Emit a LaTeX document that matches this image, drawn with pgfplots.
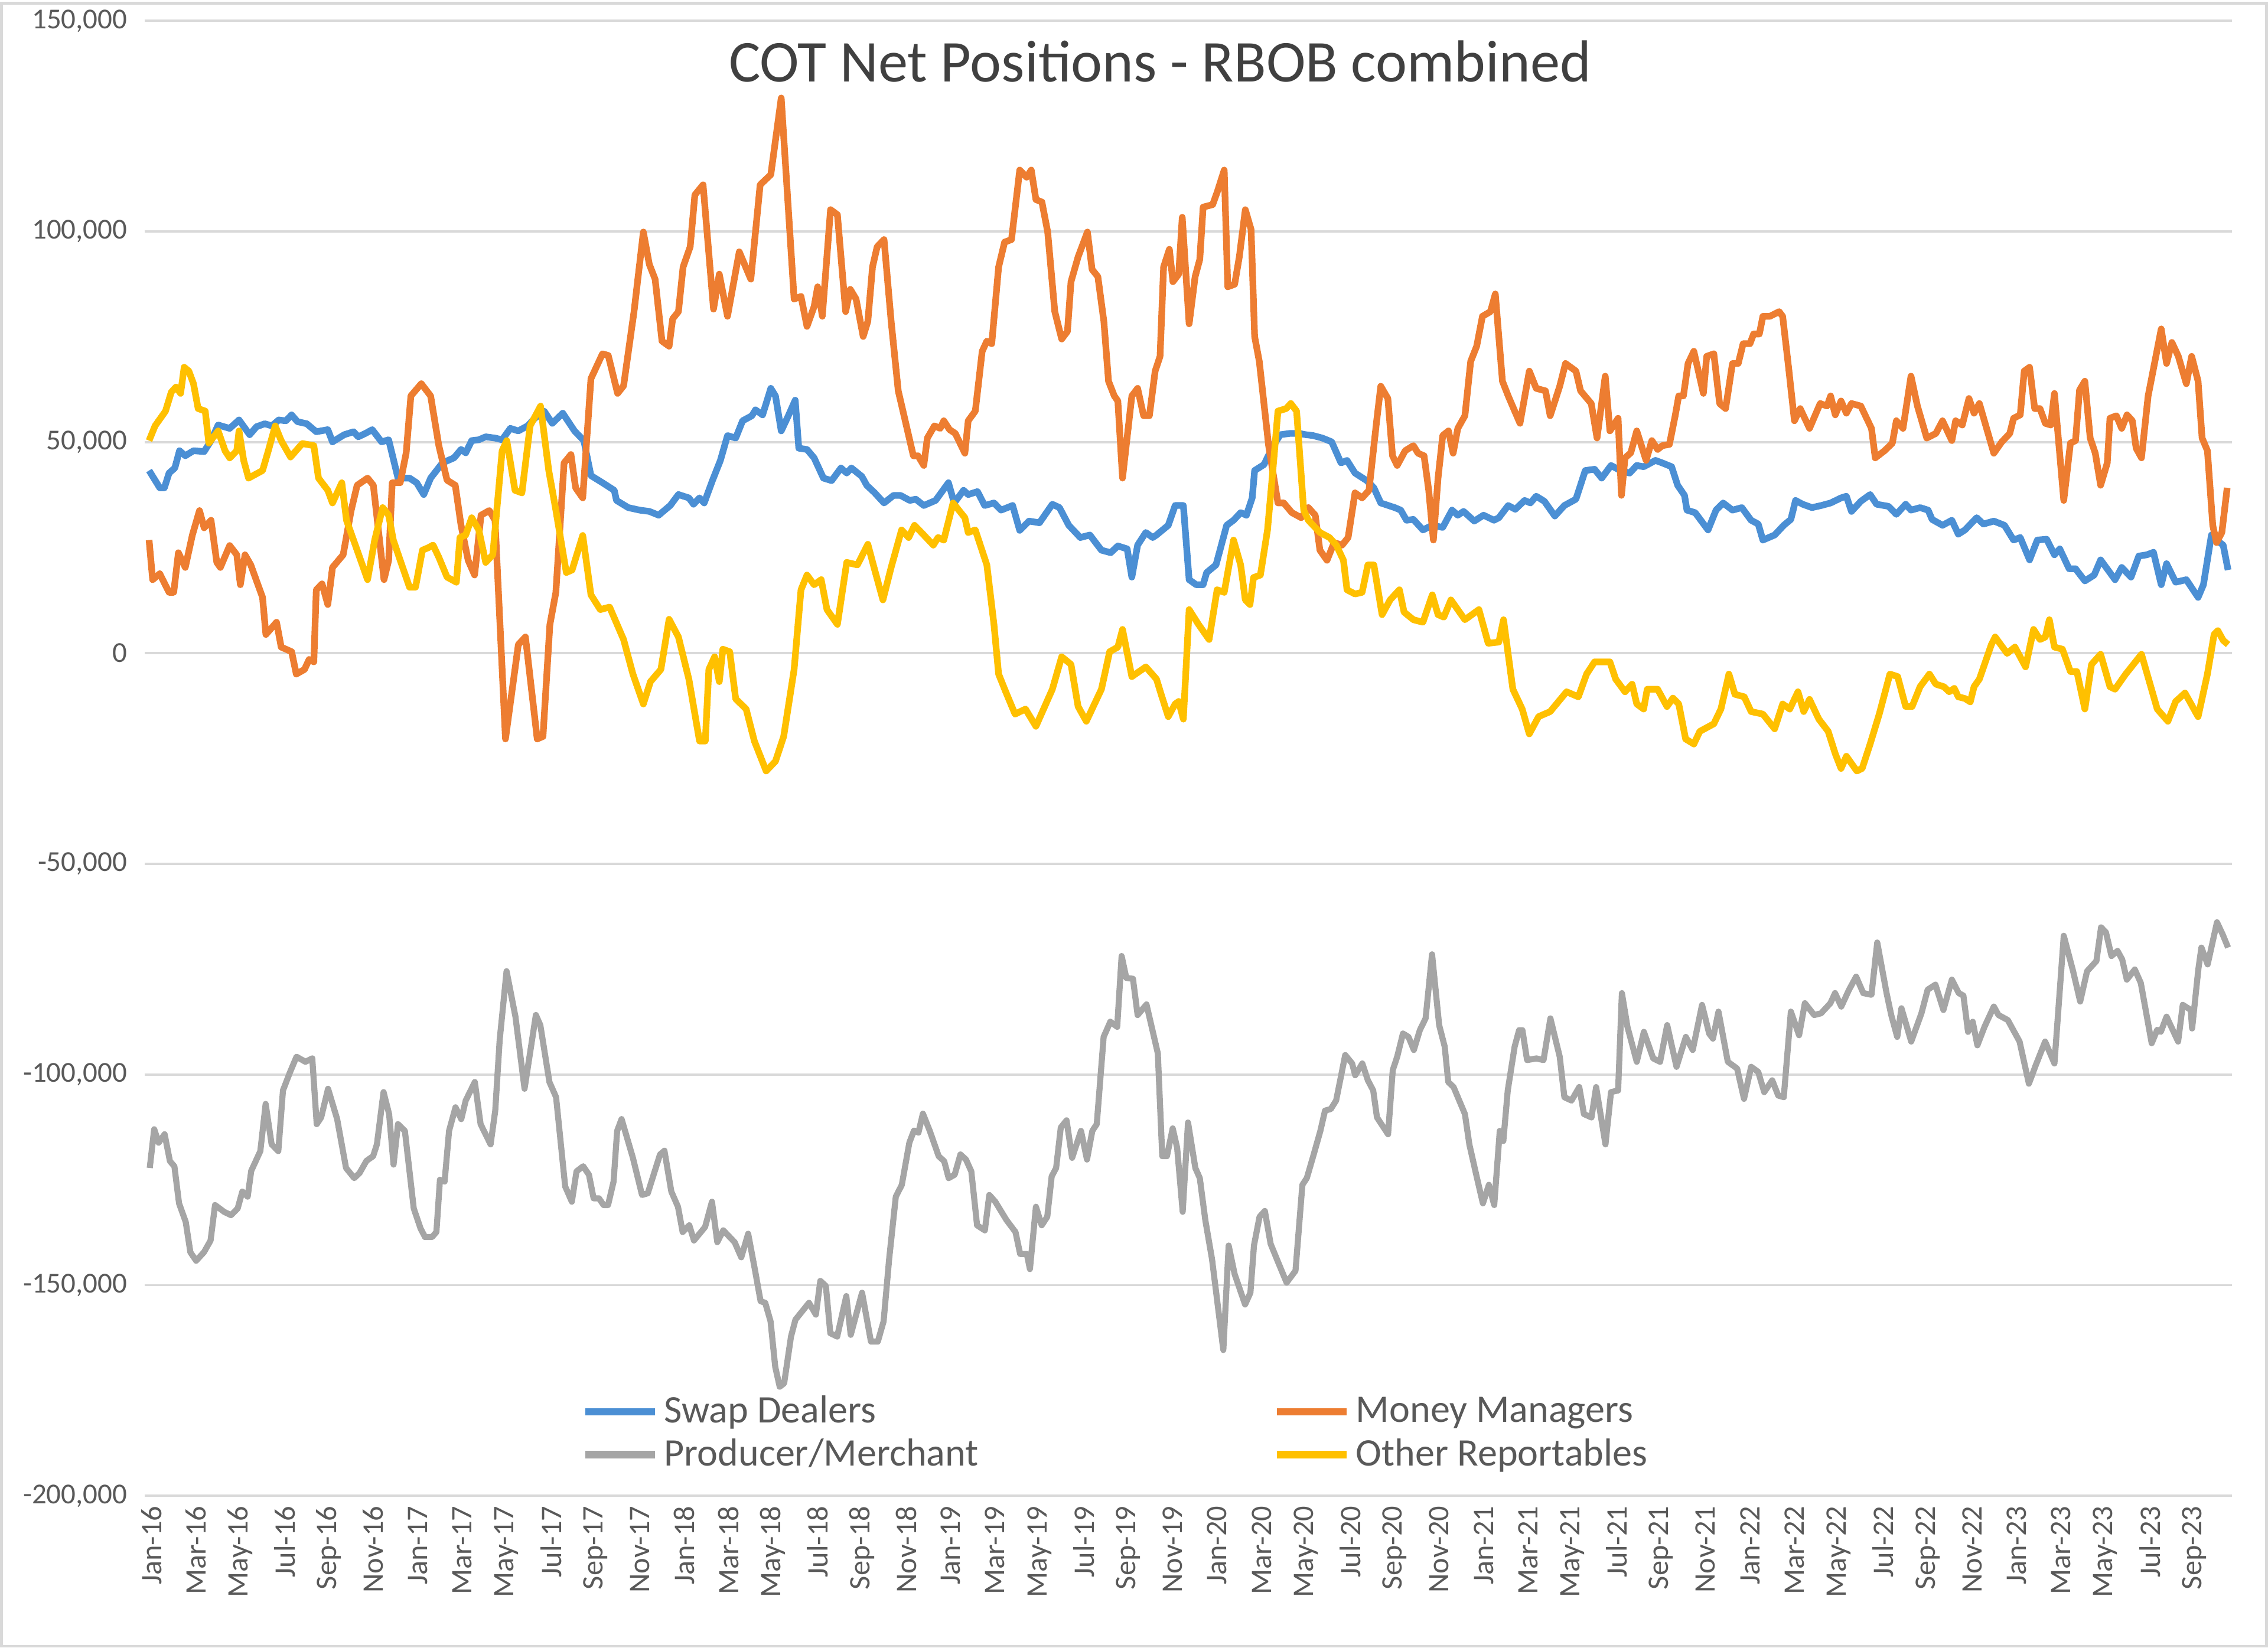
\documentclass[border=0pt]{standalone}
\usepackage{fontspec}
\setmainfont{Carlito}
\usepackage{pgfplots}
\pgfplotsset{compat=1.18}
\definecolor{swapblue}{HTML}{4B8FD4}
\definecolor{moneyorange}{HTML}{ED7D31}
\definecolor{prodgray}{HTML}{A5A5A5}
\definecolor{otheryellow}{HTML}{FFC000}
\definecolor{txt}{HTML}{595959}
\definecolor{gridc}{HTML}{D9D9D9}

\begin{document}
\begin{tikzpicture}
\begin{axis}[
  scale only axis, width=721.5pt, height=510pt,
  xmin=-0.3, xmax=93.7, ymin=-200, ymax=150,
  ytick={-200,-150,...,150},
  yticklabels={{-200,000},{-150,000},{-100,000},{-50,000},0,{50,000},{100,000},{150,000}},
  xtick={0,2,...,92},
  xticklabels={Jan-16,Mar-16,May-16,Jul-16,Sep-16,Nov-16,
               Jan-17,Mar-17,May-17,Jul-17,Sep-17,Nov-17,
               Jan-18,Mar-18,May-18,Jul-18,Sep-18,Nov-18,
               Jan-19,Mar-19,May-19,Jul-19,Sep-19,Nov-19,
               Jan-20,Mar-20,May-20,Jul-20,Sep-20,Nov-20,
               Jan-21,Mar-21,May-21,Jul-21,Sep-21,Nov-21,
               Jan-22,Mar-22,May-22,Jul-22,Sep-22,Nov-22,
               Jan-23,Mar-23,May-23,Jul-23,Sep-23},
  xticklabel style={rotate=90, anchor=east, font=\fontsize{10.3}{12}\selectfont, text=txt},
  yticklabel style={font=\fontsize{10}{12}\selectfont, text=txt, xshift=-2.5pt},
  ymajorgrids, grid style={gridc, line width=0.8pt},
  axis line style={draw=none}, major tick length=0pt,
  clip=false,
  legend columns=2, legend cell align=left,
  legend style={draw=none, fill=none, at={(rel axis cs:0.205,0.076)}, anchor=north west,
    font=\fontsize{13.5}{16.5}\selectfont, text=txt,
    /tikz/every even column/.append style={column sep=100pt}},
  legend image code/.code={\draw[#1, line width=2.5pt] (0pt,0pt) -- (24pt,0pt);},
  every axis plot/.append style={line width=2.3pt, line join=round},
]
% Swap Dealers
\addplot[color=swapblue] coordinates {
(-0.1,43.3) (0.38,39.2) (0.59,39.2) (0.8,42.7) (1.06,43.9) (1.27,48) (1.53,46.8) (1.9,48) (2.38,47.8) (2.69,50.4) (3.01,54.1) (3.53,53.3) (3.95,55.3) (4.43,51.8) (4.74,53.7) (5.11,54.4) (5.43,53.9) (5.74,55.3) (6.06,55.1) (6.32,56.5) (6.58,54.9) (7.0,54.4) (7.43,52.5) (7.95,53) (8.16,50.1) (8.69,51.8) (9.11,52.5) (9.32,51.3) (9.64,52.1) (9.95,53) (10.37,50.1) (10.69,50.6) (11.11,41.5) (11.63,41.5) (11.95,40.4) (12.27,37.6) (12.58,41.5) (13.11,45.1) (13.63,46.3) (13.95,48.3) (14.16,47.5)
(14.43,50.4) (14.75,50.6) (15.06,51.3) (15.48,51) (15.8,50.6) (16.17,53.3) (16.53,52.7) (16.95,53.9) (17.27,55.7) (17.69,57.4) (18.06,54.5) (18.53,56.9) (19.06,52.7) (19.48,50.4) (19.8,42.1) (20.32,40.4) (20.85,38.6) (20.95,36.2) (21.48,34.5) (22.0,33.9) (22.43,33.6) (22.85,32.7) (23.37,35) (23.74,37.6) (24.21,36.8) (24.42,35.3) (24.69,36.8) (24.9,35.6) (25.27,40.9) (25.63,45.7) (25.95,51.6) (26.32,51) (26.63,55.1) (27.05,56.3) (27.21,57.7) (27.53,56.5) (27.9,62.8) (28.11,61) (28.37,52.7) (28.69,56.3) (29.0,60) (29.16,48.6) (29.53,48.3)
(29.85,46.3) (30.27,41.5) (30.64,40.9) (31.06,43.9) (31.32,42.7) (31.53,43.9) (32.0,41.9) (32.22,39.8) (32.58,38) (33.0,35.6) (33.43,37.4) (33.74,37.4) (34.16,36.2) (34.43,36.5) (34.79,35) (35.32,36.2) (35.9,40.4) (36.16,35.6) (36.58,38.6) (36.79,37.6) (37.21,38.3) (37.53,35) (37.95,35.6) (38.27,33.9) (38.79,35) (39.11,29.1) (39.53,31.3) (40.0,30.9) (40.58,35.3) (40.9,34.5) (41.32,30.3) (41.84,27.4) (42.27,28) (42.79,24.4) (43.21,23.8) (43.53,25.4) (43.95,24.7) (44.16,18) (44.42,25.6) (44.79,28.6) (45.1,27.4)
(45.27,28) (45.8,30.3) (46.11,35) (46.48,35) (46.74,17.4) (47.06,16.2) (47.37,16.2) (47.53,19.1) (47.95,20.9) (48.43,30.3) (48.74,31.5) (49.06,33.3) (49.32,32.7) (49.58,36.8) (49.69,43.3) (50.11,44.7) (50.53,49.2) (50.85,51.8) (51.27,52.1) (51.69,52.1) (52.0,51.8) (52.32,51.6) (52.74,51) (53.16,50.1) (53.58,45.1) (53.85,45.7) (54.21,42.7) (54.74,40.9) (55.06,39.2) (55.37,35.6) (56.0,34.5) (56.27,33.9) (56.53,31.5) (56.84,31.7) (57.27,29.2) (57.69,30.3) (58.16,29.8) (58.58,33.9) (58.84,32.7) (59.1,33.6) (59.58,31.3) (60.0,32.7) (60.47,31.5)
(60.69,32.1) (61.11,35) (61.43,34.1) (61.85,36.2) (62.11,35.6) (62.37,37.2) (62.74,36) (63.21,32.5) (63.64,35) (64.16,36.5) (64.58,43.3) (65.0,43.6) (65.32,41.5) (65.74,44.5) (66.16,43.3) (66.58,42.7) (66.9,44.5) (67.21,44.2) (67.74,45.7) (68.05,45.1) (68.47,44.2) (68.74,39.8) (69.05,37.4) (69.16,33.9) (69.53,33.3) (70.11,29.2) (70.47,33.9) (70.79,35.6) (71.21,33.9) (71.63,34.5) (72.05,31.5) (72.37,30.6) (72.58,26.8) (73.11,28) (73.52,30.3) (73.84,31.7) (74.05,36.2) (74.37,35.3) (74.79,34.5) (75.21,35) (75.63,35.6)
(76.1,36.8) (76.34,37.2) (76.57,33.6) (76.99,36) (77.41,37.6) (77.7,35.3) (78.24,34.8) (78.59,32.9) (79.01,35.3) (79.25,33.9) (79.66,34.5) (80.02,33.9) (80.2,31.7) (80.67,30.3) (81.09,31.5) (81.38,28.2) (81.68,29.2) (82.21,32.1) (82.51,30.6) (82.98,31.3) (83.46,30.3) (83.87,26.8) (84.17,27.4) (84.59,22.1) (84.94,26.8) (85.36,27) (85.71,23.3) (85.95,24.7) (86.37,20) (86.66,20) (87.08,17.1) (87.5,18.5) (87.79,22.1) (88.44,17.4) (88.74,20.3) (89.16,18) (89.51,23) (89.87,23.3) (90.17,23.9) (90.52,16.2) (90.76,21.2) (91.17,16.8) (91.65,17.4) (92.18,13.2) (92.42,16.2) (92.78,28) (93.01,26.8) (93.31,25.6) (93.53,19.7)
};
\addlegendentry{Swap Dealers}
% Money Managers
\addplot[color=moneyorange] coordinates {
(-0.1,26.8) (0.06,17.4) (0.38,18.8) (0.8,14.4) (1.01,14.4) (1.22,23.8) (1.53,20.3) (1.85,28) (2.17,33.8) (2.38,29.7) (2.69,31.5) (2.95,21.5) (3.11,20.3) (3.53,25.5) (3.85,23.3) (4.01,16.2) (4.22,23.3) (4.48,20.9) (5.01,13.2) (5.16,4.4) (5.64,7.3) (5.85,1.4) (6.32,0.3) (6.53,-5) (6.9,-3.9) (7.11,-1.5) (7.32,-2.1) (7.43,15) (7.69,16.4) (7.95,11.5) (8.16,20.3) (8.64,23.3) (9.0,33.8) (9.27,39.8) (9.74,41.5) (10.0,39.8) (10.48,17.4) (10.69,22) (10.85,40.4) (11.21,40.4) (11.48,47.5) (11.69,61) (12.16,63.9) (12.58,61) (12.95,49.2) (13.32,41) (13.69,39.8) (13.95,30.3) (14.27,22)
(14.56,18.5) (14.85,32.7) (15.22,33.8) (15.48,31.5) (15.95,-20.4) (16.53,2) (16.85,3.8) (17.38,-20.4) (17.64,-19.8) (17.95,6.7) (18.22,14.4) (18.59,45.1) (18.9,47.1) (19.11,39.2) (19.43,36.8) (19.8,65.1) (20.32,71) (20.58,70.6) (21.0,61.6) (21.27,63.4) (21.74,81) (22.16,99.9) (22.43,92.2) (22.69,88.7) (23.0,74) (23.32,72.8) (23.48,79.3) (23.74,81) (23.95,91.6) (24.27,96.4) (24.48,108.7) (24.85,111.1) (25.32,81.6) (25.58,89.9) (25.95,79.9) (26.48,95.2) (27.0,88.7) (27.42,111.1) (27.9,113.5) (28.37,131.7) (28.95,84) (29.26,84.6) (29.53,77.5)
(29.85,82.2) (30.01,86.9) (30.22,79.9) (30.59,105.2) (30.9,104) (31.27,81) (31.48,86.3) (31.74,84) (32.06,75.1) (32.27,78.7) (32.48,91.6) (32.69,96.4) (33.0,98.1) (33.32,78.7) (33.64,62.2) (34.06,52.7) (34.32,46.8) (34.53,46.8) (34.79,44.5) (34.95,51) (35.27,53.9) (35.53,53.3) (35.69,55.1) (35.95,53) (36.21,52.1) (36.64,47.4) (36.79,55.1) (37.11,57.4) (37.42,71.6) (37.63,74) (37.85,73.4) (38.16,91.6) (38.43,97.5) (38.74,98.1) (39.11,114.6) (39.42,112.9) (39.63,114.6) (39.84,107.6) (40.11,107) (40.37,99.9) (40.69,81) (41.0,74.5) (41.26,76.3) (41.42,88.1) (41.74,94) (42.16,99.9) (42.37,91) (42.63,89.3) (42.9,78.7) (43.11,64.5) (43.37,61) (43.53,59.8) (43.74,41.5) (44.16,61) (44.42,62.8) (44.69,56.3) (44.95,56.3) (45.21,66.9)
(45.43,70.4) (45.59,91.6) (45.85,95.8) (46.01,88.1) (46.27,89.9) (46.43,103.4) (46.74,78.1) (47.01,89.3) (47.22,93.4) (47.37,105.8) (47.8,106.4) (48.0,109.3) (48.32,114.6) (48.48,86.9) (48.79,87.5) (49.0,94) (49.27,105.2) (49.53,100.5) (49.69,75.1) (49.9,69.2) (50.32,49.2) (50.74,35.6) (51.0,35.6) (51.37,33.3) (51.79,32.1) (52.11,34.5) (52.42,32.7) (52.63,24.4) (52.95,22) (53.27,26.2) (53.63,25.6) (53.9,27.4) (54.21,38) (54.53,36.8) (54.84,38.6) (55.16,53.9) (55.37,63.3) (55.69,60.4) (55.9,46.8) (56.11,44.5) (56.47,48) (56.84,49.2) (57.05,47.4) (57.32,46.8) (57.53,38.6) (57.74,26.8) (57.95,41.5) (58.16,51.6) (58.42,52.7) (58.63,47.4) (58.84,53.3) (59.16,56.3) (59.42,69.2) (59.69,72.8) (59.95,79.9) (60.31,81) (60.53,85.2)
(60.85,64.5) (61.11,61) (61.64,54.5) (62.06,66.9) (62.37,62.8) (62.79,62.2) (63.0,56.3) (63.43,63.3) (63.69,68.7) (64.16,66.9) (64.37,62.2) (64.85,59.2) (65.11,51) (65.48,65.7) (65.69,52.7) (66.06,55.7) (66.21,37.4) (66.37,46.3) (66.63,47.5) (66.9,52.7) (67.32,45.7) (67.58,50.4) (67.84,48.3) (68.05,49.2) (68.37,49.5) (68.63,56.3) (68.79,61) (69.0,61) (69.21,68.7) (69.47,71.6) (69.9,61.6) (70.05,70.4) (70.37,71) (70.63,59.2) (70.9,58) (71.21,68.7) (71.47,68.7) (71.69,73.4) (72.0,73.4) (72.16,75.7) (72.42,75.7) (72.58,79.9) (72.9,79.9) (73.31,81) (73.47,79.9) (73.73,68.1) (74.0,55.1) (74.26,58) (74.68,53.3) (75.16,59.2) (75.47,58.6) (75.63,61) (75.84,56.5)
(76.1,59.8) (76.34,56.9) (76.57,59.2) (76.99,58.6) (77.47,53.3) (77.64,46.3) (78.06,48) (78.41,49.8) (78.59,55.1) (78.89,53.3) (79.25,65.7) (79.54,58.6) (79.96,51) (80.37,52.1) (80.67,55.1) (81.09,50.4) (81.26,55.1) (81.56,54.1) (81.86,60.4) (82.09,56.9) (82.33,59.2) (82.98,47.4) (83.34,50.1) (83.7,52.1) (83.87,55.7) (84.17,56.5) (84.35,66.9) (84.59,67.8) (84.82,58) (85.06,58) (85.3,54.5) (85.54,54.1) (85.71,61.6) (86.13,36.2) (86.43,49.8) (86.66,50.4) (86.84,62.4) (87.08,64.5) (87.32,51) (87.55,47.4) (87.79,39.8) (88.09,45.1) (88.21,55.7) (88.5,56.3) (88.74,53.3) (88.98,56.5) (89.22,55.1) (89.39,48.6) (89.63,46.3) (89.93,61) (90.52,76.9) (90.76,68.7) (91.0,73.7) (91.29,70.4) (91.65,63.9) (91.89,70.4) (92.18,64.5) (92.36,51) (92.6,48) (92.84,30.3) (93.01,26.2) (93.25,28.6) (93.49,39.2)
};
\addlegendentry{Money Managers}
% Producer/Merchant
\addplot[color=prodgray, line width=2.1pt] coordinates {
(-0.07,-122.2) (0.13,-113) (0.33,-116.2) (0.6,-114.2) (0.84,-120.6) (1.04,-121.8) (1.25,-130.6) (1.55,-135) (1.76,-142.2) (2.02,-144.2) (2.37,-142.2) (2.67,-139.4) (2.87,-131) (3.28,-132.6) (3.59,-133.4) (3.89,-131.8) (4.1,-127.8) (4.34,-129) (4.5,-122.9) (4.91,-118.2) (5.15,-107) (5.42,-116.6) (5.72,-118.2) (5.93,-103.8) (6.23,-99.7) (6.54,-95.8) (6.94,-97) (7.25,-96.2) (7.45,-111.8) (7.65,-110.2) (7.96,-103.4) (8.37,-110.6) (8.77,-122.2) (9.14,-124.6) (9.38,-123.4) (9.69,-120.5) (9.99,-119.4) (10.16,-116.6) (10.46,-104.2) (10.71,-109.4) (10.91,-121.4) (11.11,-111.8) (11.42,-113.4) (11.82,-131.8) (12.13,-136.6) (12.33,-138.6) (12.64,-138.6) (12.84,-137.4) (13.0,-125) (13.21,-125.4) (13.41,-113.4) (13.7,-107.8) (13.96,-110.6) (14.16,-106.2) (14.57,-101.8) (14.83,-111.8) (15.28,-116.6) (15.49,-108.6) (15.69,-91.8) (16.0,-75.5) (16.4,-86.3) (16.81,-103.4) (17.32,-85.9) (17.52,-88.3) (17.93,-101.8) (18.23,-105.4) (18.64,-126.6) (18.94,-130.2) (19.15,-123) (19.45,-121.8) (19.71,-123.8) (19.92,-129.4) (20.16,-129.4) (20.37,-131) (20.57,-131) (20.82,-125.4) (20.98,-113.4) (21.18,-110.6) (21.69,-119.8) (22.1,-128.6) (22.36,-128.2) (22.91,-119) (23.11,-118.1) (23.42,-127.8) (23.72,-131.4) (23.93,-137.4) (24.23,-135.8) (24.44,-139.4) (24.94,-136.2) (25.25,-130.2) (25.49,-139.8) (25.76,-137) (26.27,-139.8) (26.57,-143.4) (26.88,-137.8) (27.18,-146.2) (27.44,-153.8) (27.65,-154.2) (27.89,-158.6) (28.1,-169.4) (28.3,-174.1) (28.5,-173.3) (28.81,-162.2) (29.01,-158.2) (29.62,-154.2) (29.93,-157) (30.13,-149)
(30.38,-150.2) (30.58,-161.4) (30.89,-162.2) (31.3,-152.6) (31.5,-161.8) (32.01,-151.8) (32.41,-163.4) (32.72,-163.4) (32.98,-158.6) (33.23,-143.8) (33.53,-129) (33.8,-126.2) (34.14,-116.2) (34.35,-113.3) (34.55,-113.8) (34.75,-109.3) (35.06,-113.4) (35.46,-119.4) (35.71,-120.6) (35.91,-124.6) (36.18,-123.8) (36.44,-119) (36.69,-120.2) (36.93,-123) (37.19,-135.8) (37.54,-137) (37.74,-128.6) (38.01,-130.2) (38.52,-134.6) (38.92,-137.4) (39.13,-142.6) (39.43,-142.6) (39.57,-146.2) (39.84,-131.4) (40.1,-135.8) (40.35,-133.8) (40.55,-124.2) (40.75,-122.2) (40.96,-112.6) (41.22,-110.9) (41.47,-119.8) (41.87,-113.4) (42.14,-120.2) (42.38,-113.4) (42.58,-111.8) (42.89,-91.1) (43.19,-87.5) (43.5,-88.7) (43.7,-71.9) (43.91,-77.1) (44.21,-77.3) (44.42,-85.9) (44.82,-83.4) (45.33,-95) (45.53,-119.4) (45.74,-119.4) (46.0,-112.8) (46.2,-117.4) (46.45,-132.6) (46.69,-111.4) (47.02,-122.2) (47.22,-124.6) (47.47,-134.6) (47.77,-143.8) (48.28,-165.4) (48.52,-140.6) (48.79,-147.4) (49.26,-154.6) (49.5,-151.8) (49.66,-140.6) (49.91,-133.8) (50.15,-132.4) (50.41,-140.2) (50.72,-144.2) (51.13,-149.4) (51.53,-146.6) (51.84,-126.2) (52.04,-124.6) (52.35,-119) (52.65,-113.4) (52.86,-108.6) (53.12,-108.2) (53.36,-106.2) (53.77,-95.4) (54.08,-97.4) (54.22,-100.2) (54.54,-97.4) (54.79,-101.4) (55.03,-103.8) (55.2,-110.2) (55.7,-114.2) (55.91,-99) (56.11,-95.8) (56.37,-90.3) (56.62,-91.1) (56.86,-94.2) (57.13,-89.5) (57.39,-86.7) (57.68,-71.5) (58.0,-88.3) (58.25,-93.4) (58.41,-101.8) (58.65,-103) (59.16,-109.4) (59.36,-116.6) (59.67,-123.8) (59.97,-130.6) (60.24,-126.2) (60.48,-131) (60.73,-113.4) (60.89,-115.8) (61.09,-103.8) (61.4,-93.4) (61.6,-89.5)
(61.75,-89.5) (61.96,-96.6) (62.38,-96.2) (62.7,-96.6) (63.01,-86.7) (63.43,-95.8) (63.64,-105.4) (63.96,-106.2) (64.31,-103) (64.52,-109.4) (64.86,-110.2) (65.07,-103) (65.49,-116.6) (65.74,-104.2) (66.06,-103.8) (66.23,-80.7) (66.48,-88.7) (66.9,-97) (67.22,-89.9) (67.64,-96.2) (67.95,-97) (68.27,-88.3) (68.69,-98.2) (69.11,-91.1) (69.42,-94.2) (69.84,-83.5) (70.16,-90.3) (70.33,-91.5) (70.58,-85.1) (71.0,-97) (71.42,-98.6) (71.73,-105.8) (72.05,-98.2) (72.37,-99.4) (72.64,-104.2) (73.0,-101.4) (73.27,-105) (73.52,-105.4) (73.84,-85.1) (74.21,-90.7) (74.47,-83.1) (74.89,-85.9) (75.2,-85.5) (75.62,-83.1) (75.83,-80.7) (76.11,-83.9) (76.46,-79.9) (76.78,-76.8) (77.1,-80.7) (77.47,-81.1) (77.73,-68.7) (78.15,-80.7) (78.36,-85.9) (78.63,-91.1) (78.82,-84.3) (79.26,-92.2) (79.72,-85.5) (80.0,-79.9) (80.35,-78.7) (80.71,-84.7) (81.09,-77.5) (81.4,-80.7) (81.61,-81.3) (81.82,-89.9) (82.03,-87.5) (82.24,-93.1) (82.56,-88.7) (82.98,-83.9) (83.19,-85.9) (83.61,-87.1) (84.14,-92.2) (84.56,-102.2) (84.87,-97.8) (85.29,-92.2) (85.71,-97.4) (86.13,-67.1) (86.55,-75.5) (86.87,-82.7) (87.18,-75.5) (87.6,-73.1) (87.81,-65.1) (88.03,-66.3) (88.28,-71.9) (88.55,-70.7) (88.76,-72.7) (88.97,-77.5) (89.33,-75.1) (89.6,-78.3) (90.09,-92.6) (90.34,-89.4) (90.5,-89.9) (90.76,-86.3) (91.28,-92.2) (91.49,-83.5) (91.85,-84.7) (91.91,-89.1) (92.19,-75.1) (92.33,-69.9) (92.61,-73.9) (93.03,-63.9) (93.28,-66.7) (93.53,-69.9)
};
\addlegendentry{Producer/Merchant}
% Other Reportables
\addplot[color=otheryellow] coordinates {
(-0.1,50.4) (0.17,53.9) (0.64,57.4) (0.9,61.9) (1.11,63.1) (1.32,61.6) (1.48,67.8) (1.69,66.9) (1.9,63.9) (2.11,58) (2.43,57.4) (2.59,49.8) (3.01,52.7) (3.32,48) (3.53,46.3) (3.85,48) (3.95,52.7) (4.16,45.7) (4.38,41.5) (5.01,43.3) (5.27,48) (5.58,53.9) (5.85,50.4) (6.27,46.5) (6.8,49.7) (7.32,49.2) (7.53,41.5) (7.95,38.6) (8.16,35.6) (8.58,40.4) (8.79,31.5) (9.27,24.4) (9.74,17.4) (10.06,26.8) (10.42,34.5) (10.69,32.7) (10.9,26.8) (11.21,22) (11.63,15.6) (11.9,15.6) (12.21,24.4) (12.48,25) (12.69,25.6) (12.95,22.7) (13.32,18) (13.74,16.8) (13.9,27.4) (14.16,28)
(14.43,32.1) (14.75,29.2) (15.06,21.5) (15.38,23.3) (15.8,48) (16.01,50.4) (16.38,38.6) (16.69,38) (17.06,53.9) (17.53,58.6) (17.9,43.3) (18.22,33.9) (18.69,19.1) (18.95,19.7) (19.43,27.9) (19.8,13.8) (20.22,10.3) (20.64,10.9) (21.27,3.2) (21.69,-5) (22.16,-12.1) (22.48,-6.8) (22.95,-3.9) (23.32,8) (23.74,3.8) (24.21,-6.2) (24.69,-20.9) (24.95,-20.9) (25.11,-3.9) (25.37,-0.9) (25.58,-6.8) (25.74,0.9) (26.05,0.3) (26.32,-10.9) (26.79,-13.3) (27.16,-20.9) (27.69,-28) (28.11,-25.7) (28.48,-19.8) (28.95,-3.9) (29.26,15) (29.53,18.5)
(29.85,16.2) (30.17,17.4) (30.43,10.3) (30.9,6.8) (31.32,21.5) (31.8,20.9) (32.27,25.8) (32.58,19.7) (32.95,12.6) (33.32,20.3) (33.79,29.2) (34.11,27.4) (34.37,30.3) (34.79,28) (35.22,25.6) (35.43,27.4) (35.69,26.8) (36.11,35.6) (36.64,32.1) (36.79,28.6) (37.11,29.2) (37.63,20.9) (37.95,6.8) (38.16,-5) (38.48,-9.2) (38.9,-14.5) (39.37,-13.3) (39.84,-17.4) (40.58,-8.6) (41.0,-0.9) (41.42,-2.7) (41.74,-12.7) (42.11,-16.2) (42.79,-8.6) (43.16,0.3) (43.53,1.4) (43.74,5.6) (44.16,-5.6) (44.79,-3.3)
(45.27,-6.2) (45.48,-9.8) (45.8,-15.1) (46.11,-12.1) (46.27,-11.5) (46.48,-15.7) (46.74,10.3) (47.16,6.8) (47.64,3.2) (48.0,15) (48.32,14.4) (48.74,26.8) (49.06,20.9) (49.27,12.6) (49.48,11.5) (49.64,17.9) (49.95,18.5) (50.27,29.2) (50.53,44.5) (50.74,57.4) (51.11,58) (51.32,59.2) (51.58,57.4) (51.9,33.9) (52.11,31.5) (52.63,28.6) (53.06,27.4) (53.37,25.6) (53.69,22) (53.85,15) (54.21,14) (54.53,14.4) (54.79,20.9) (55.06,20.9) (55.43,9.1) (55.79,12.6) (56.21,15) (56.42,9.7) (56.84,7.9) (57.27,7.3) (57.69,13.8) (57.95,9.1) (58.21,8.5) (58.53,12.6) (59.16,7.9) (59.79,10.3) (60.21,2.3)
(60.69,2.6) (60.9,7.9) (61.32,-8.6) (61.74,-13.3) (62.06,-19.2) (62.48,-15.1) (63.0,-13.9) (63.74,-9.2) (64.27,-10.4) (64.64,-5) (65.0,-2.1) (65.69,-2.1) (65.95,-6.2) (66.37,-9.2) (66.69,-7.4) (66.9,-12.1) (67.21,-13.3) (67.37,-8.6) (67.84,-8.6) (68.26,-12.7) (68.53,-10.7) (68.79,-12.1) (69.1,-20.4) (69.47,-21.6) (69.74,-18.6) (70.37,-16.8) (70.69,-13.3) (71.05,-5) (71.32,-9.8) (71.74,-10.4) (72.05,-13.9) (72.58,-14.5) (73.11,-18) (73.47,-12.1) (73.79,-13.3) (74.16,-9.2) (74.42,-13.9) (74.68,-11) (75.1,-15.7) (75.52,-18.6) (75.84,-23.9)
(76.1,-27.4) (76.34,-24.5) (76.81,-28) (77.05,-27.4) (77.41,-21.6) (77.82,-14.5) (78.3,-5) (78.65,-5.6) (79.01,-12.7) (79.3,-12.7) (79.66,-8) (80.08,-5) (80.37,-7.4) (80.73,-8) (80.97,-9.2) (81.2,-8.4) (81.38,-10.4) (81.68,-10.8) (81.92,-11.6) (82.09,-8) (82.33,-6.2) (82.87,2) (83.04,3.8) (83.58,-0.1) (83.93,1.4) (84.41,-3.3) (84.77,5.6) (85.06,3.2) (85.3,3.8) (85.48,7.9) (85.71,1.4) (86.07,0.9) (86.43,-4.4) (86.72,-4.4) (87.08,-13.3) (87.38,-2.7) (87.79,-0.3) (88.21,-8) (88.44,-8.6) (88.92,-5) (89.63,-0.3) (90.34,-13.3) (90.82,-16.2) (91.17,-11.5) (91.59,-9.5) (92.18,-15.1) (92.6,-5) (92.9,4.4) (93.07,5.3) (93.31,3) (93.53,2)
};
\addlegendentry{Other Reportables}
\node[font=\fontsize{20.5}{24}\selectfont, text=black!75] at (rel axis cs:0.4865,0.9725) {COT Net Positions - RBOB combined};
\draw[gridc, line width=1pt] ([xshift=-49.5pt,yshift=-52pt]rel axis cs:0,0) rectangle ([xshift=12pt,yshift=6pt]rel axis cs:1,1);
\end{axis}
\end{tikzpicture}
\end{document}
